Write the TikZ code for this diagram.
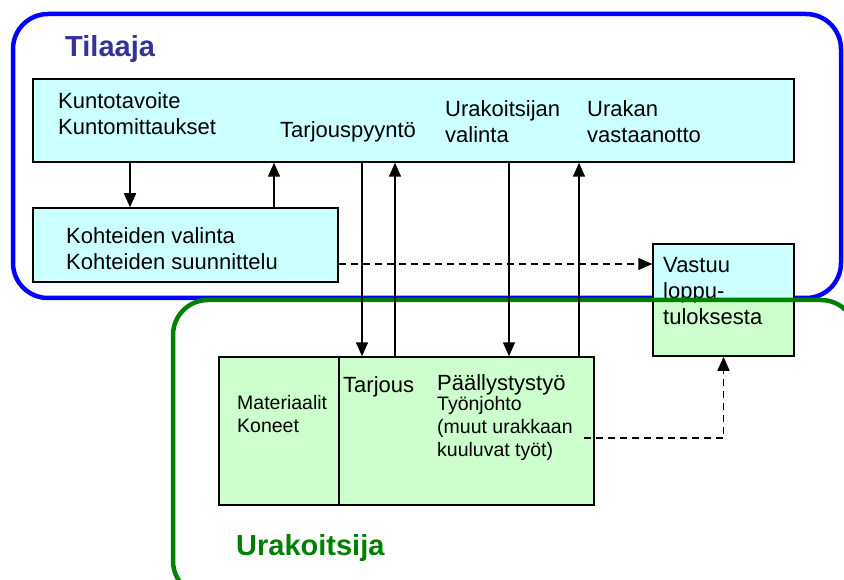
\documentclass[tikz,border=0pt]{standalone}
\usepackage{fontspec}
\setmainfont{Liberation Sans}
\usetikzlibrary{arrows.meta}
\definecolor{tilaaja}{HTML}{0000FF}
\definecolor{tilaajatxt}{HTML}{333399}
\definecolor{urakoitsija}{HTML}{008000}
\definecolor{cyanfill}{HTML}{CCFFFF}
\definecolor{greenfill}{HTML}{CCFFCC}

\begin{document}
\begin{tikzpicture}[
  x=1pt, y=-1pt,
  abox/.style={draw, line width=1.5pt, inner sep=0pt},
  txt/.style={anchor=base west, inner sep=0pt, align=left,
              font=\fontsize{22}{26.5}\selectfont},
  smalltxt/.style={txt, font=\fontsize{19.5}{23}\selectfont},
  title/.style={anchor=base west, inner sep=0pt,
                font=\fontsize{29}{34}\selectfont\bfseries},
  arr/.style={-{Triangle[length=14pt,width=12pt]}, line width=1.5pt},
  darr/.style={arr, dash pattern=on 7pt off 5pt},
  frame/.style={line width=4.5pt, rounded corners=35pt},
]
  \useasboundingbox (0,0) rectangle (844,580);
  \clip (0,0) rectangle (844,580);

  % Tilaaja (top)
  \draw[frame, tilaaja] (13,14) rectangle (841,298);
  \node[title, tilaajatxt] (tilaaja) at (65,57) {Tilaaja};

  \node[abox, fill=cyanfill, minimum width=761pt, minimum height=83pt] (plan) at (413.5,120.5) {};
  \node[abox, fill=cyanfill, minimum width=305pt, minimum height=74pt] (kohde) at (185.5,245) {};
  \node[abox, fill=cyanfill, minimum width=141pt, minimum height=112pt,
        path picture={\fill[greenfill] (path picture bounding box.south west)
                      rectangle (path picture bounding box.east);}] (vastuu) at (723.5,300) {};

  % multi-line texts: placed by the baseline of their last line
  \node[txt] (kunto) at (58,135) {Kuntotavoite\\Kuntomittaukset};
  \node[txt] (pyynto) at (280,138) {Tarjouspyyntö};
  \node[txt] (valinta) at (445,143) {Urakoitsijan\\valinta};
  \node[txt] (vastaan) at (587,143) {Urakan\\vastaanotto};
  \node[txt] (kohdetxt) at (66,270) {Kohteiden valinta\\Kohteiden suunnittelu};
  \node[txt] (vastuutxt) at (663,325) {Vastuu\\loppu-\\tuloksesta};

  % Urakoitsija (bottom)
  \draw[frame, urakoitsija] (173,300) rectangle (856,596);
  \node[title, urakoitsija] (urakoitsija) at (236,555) {Urakoitsija};

  \node[abox, fill=greenfill, minimum width=120pt, minimum height=148pt] (mat) at (279,431) {};
  \node[abox, fill=greenfill, minimum width=255pt, minimum height=148pt] (tyo) at (466.5,431) {};

  \node[smalltxt] (mattxt) at (237,432) {Materiaalit\\Koneet};
  \node[txt] (tarjous) at (343,392) {Tarjous};
  \node[txt] (paal) at (437,390) {Päällystystyö};
  \node[smalltxt] (johto) at (437,456) {Työnjohto\\(muut urakkaan\\kuuluvat työt)};

  % connectors
  \draw[arr] (plan.south -| 130,0) -- (kohde.north -| 130,0);
  \draw[arr] (kohde.north -| 274,0) -- (plan.south -| 274,0);
  \draw[arr] (plan.south -| 362,0) -- (tyo.north -| 362,0);
  \draw[arr] (tyo.north -| 395,0) -- (plan.south -| 395,0);
  \draw[arr] (plan.south -| 509,0) -- (tyo.north -| 509,0);
  \draw[arr] (tyo.north -| 579,0) -- (plan.south -| 579,0);

  \coordinate (dstart) at (584,438);
  \draw[darr] (kohde.east |- 0,264) -- (vastuu.west |- 0,264);
  \draw[darr] (dstart) -| (vastuu.south);
\end{tikzpicture}
\end{document}
